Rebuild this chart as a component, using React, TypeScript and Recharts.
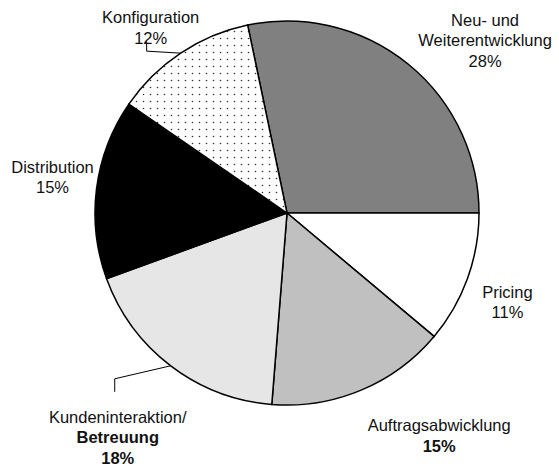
import React from "react";
import { PieChart, Pie, Cell } from "recharts";

// Anteile der Aufgabenbereiche (Uhrzeigersinn, beginnend oben)
const categories = [
  "Neu- und Weiterentwicklung",
  "Pricing",
  "Auftragsabwicklung",
  "Kundeninteraktion/Betreuung",
  "Distribution",
  "Konfiguration",
];
const shares = [28, 11, 15, 18, 15, 12];
const labelLines = [
  ["Neu- und", "Weiterentwicklung"],
  ["Pricing"],
  ["Auftragsabwicklung"],
  ["Kundeninteraktion/", "Betreuung"],
  ["Distribution"],
  ["Konfiguration"],
];

const fills = ["#808080", "#ffffff", "#c0c0c0", "#e6e6e6", "#000000", "url(#dots)"];

// label placement relative to the slice's outer edge point
const labelLayout = [
  { dx: 77, dy: -38, boldFrom: 99 },
  { dx: 40, dy: 19, boldFrom: 99 },
  { dx: 78, dy: 41, boldFrom: 1 },
  { dx: -53, dy: 57, boldFrom: 1, leader: [[-56, 13], [-56, 26]] },
  { dx: -44, dy: -16, boldFrom: 99 },
  { dx: -30, dy: -30, boldFrom: 99, leader: [[-34, -2], [-34, -12]] },
];

const data = categories.map((name, i) => ({ name, value: shares[i] }));
const total = shares.reduce((a, b) => a + b, 0);
const startAngle = (shares[0] / total) * 360;

const RADIAN = Math.PI / 180;
const LINE_H = 20.5;

function renderLabel(props: any) {
  const { cx, cy, midAngle, outerRadius, index, value } = props;
  const px = cx + outerRadius * Math.cos(-midAngle * RADIAN);
  const py = cy + outerRadius * Math.sin(-midAngle * RADIAN);
  const lay = labelLayout[index];
  const lines = [...labelLines[index], `${value}%`];
  const x = px + lay.dx;
  const y = py + lay.dy;
  let leader = null;
  if (lay.leader) {
    const pts = [[px, py], ...lay.leader.map(([a, b]) => [px + a, py + b])];
    leader = (
      <polyline
        points={pts.map((p) => p.join(",")).join(" ")}
        fill="none"
        stroke="#000"
        strokeWidth={1}
      />
    );
  }
  return (
    <g key={`lbl-${index}`}>
      {leader}
      <text
        x={x}
        y={y}
        textAnchor="middle"
        fontFamily="'Liberation Sans', Arial, sans-serif"
        fontSize={16.5}
        fill="#111"
      >
        {lines.map((t, i) => (
          <tspan
            key={i}
            x={x}
            dy={i === 0 ? 0 : LINE_H}
            fontWeight={i >= lay.boldFrom ? "bold" : "normal"}
          >
            {t}
          </tspan>
        ))}
      </text>
    </g>
  );
}

export default function App() {
  return (
    <div style={{ position: "absolute", left: 0, top: 0, background: "#fff" }}>
      <PieChart width={559} height={467}>
        <defs>
          <pattern id="dots" width={7} height={7} patternUnits="userSpaceOnUse">
            <rect width={7} height={7} fill="#fff" />
            <circle cx={3.5} cy={3.5} r={0.8} fill="#333" />
          </pattern>
        </defs>
        <Pie
          data={data}
          dataKey="value"
          nameKey="name"
          cx={282}
          cy={208}
          outerRadius={192}
          startAngle={startAngle}
          endAngle={startAngle - 360}
          stroke="#000"
          strokeWidth={1.5}
          label={renderLabel}
          labelLine={false}
          isAnimationActive={false}
        >
          {data.map((d, i) => (
            <Cell key={d.name} fill={fills[i]} stroke="#000" strokeWidth={1.5} />
          ))}
        </Pie>
      </PieChart>
    </div>
  );
}
